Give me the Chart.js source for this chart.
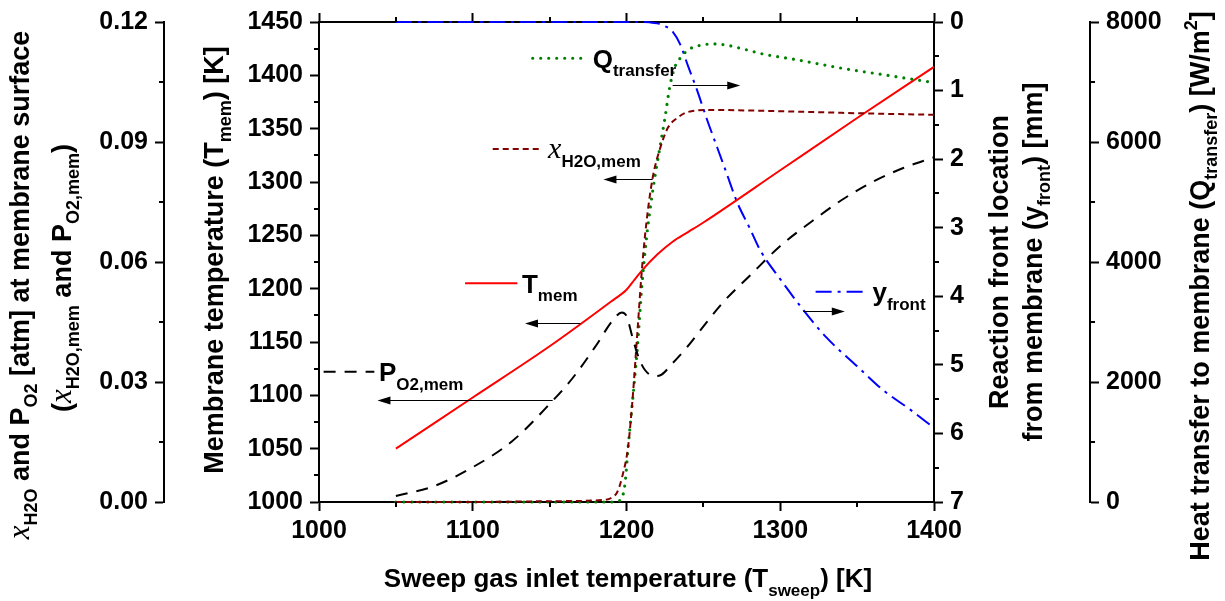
<!DOCTYPE html>
<html>
<head>
<meta charset="utf-8">
<script src="https://cdn.jsdelivr.net/npm/chart.js@4.4.0/dist/chart.umd.min.js"></script>
<style>
html, body { margin: 0; padding: 0; background: #fff; }
#wrap { width: 1225px; height: 601px; }
</style>
</head>
<body>
<div id="wrap"><canvas id="grafico"></canvas></div>
<script>
var FONT = '"Liberation Sans", Arial, sans-serif';

// membrane temperature [K]
var tSweepMem = [1050, 1100, 1150, 1190, 1200, 1205, 1210, 1220, 1230, 1240, 1250, 1300, 1350, 1400];
var tMem = [1050, 1098, 1146, 1188, 1199, 1208, 1217, 1232, 1244, 1253, 1262, 1311, 1360, 1408];

// reaction front location [mm]
var tSweepFront = [1050, 1150, 1200, 1210, 1215, 1220, 1225, 1230, 1235, 1240, 1246, 1252, 1259, 1265, 1272, 1280, 1287, 1300, 1315, 1330, 1350, 1367, 1385, 1400];
var yFront = [0, 0, 0, 0, 0.005, 0.02, 0.06, 0.14, 0.33, 0.64, 1.0, 1.4, 1.83, 2.2, 2.63, 3.0, 3.33, 3.75, 4.2, 4.6, 5.02, 5.37, 5.66, 5.92];

// heat transfer to membrane [W/m2]
var tSweepQ = [1050, 1100, 1150, 1190, 1196, 1199, 1201, 1204, 1207, 1210, 1213, 1216, 1219, 1222, 1225, 1228, 1231, 1235, 1241, 1250, 1258, 1266, 1276, 1290, 1311, 1340, 1370, 1400];
var qTransfer = [0, 0, 0, 0, 30, 300, 900, 1700, 2550, 3600, 4400, 5000, 5500, 5950, 6400, 6900, 7220, 7400, 7550, 7620, 7635, 7610, 7550, 7460, 7370, 7230, 7110, 6990];

// water mole fraction at membrane
var tSweepX = [1050, 1100, 1150, 1185, 1190, 1194, 1197, 1201, 1204, 1207, 1210, 1213, 1217, 1222, 1227, 1233, 1240, 1255, 1300, 1350, 1400];
var xH2O = [0, 0, 0.0002, 0.0005, 0.001, 0.0025, 0.006, 0.0137, 0.026, 0.042, 0.058, 0.07, 0.081, 0.0886, 0.0936, 0.096, 0.0975, 0.098, 0.0977, 0.0972, 0.0968];

// oxygen partial pressure at membrane [atm]
var tSweepP = [1050, 1075, 1100, 1125, 1150, 1165, 1180, 1191, 1197, 1200, 1204, 1208, 1212, 1218, 1222, 1230, 1240, 1248, 1263, 1280, 1300, 1320, 1340, 1360, 1380, 1400];
var pO2 = [0.0015, 0.004, 0.0087, 0.015, 0.0245, 0.031, 0.039, 0.0454, 0.0474, 0.0465, 0.041, 0.036, 0.033, 0.0315, 0.0317, 0.0347, 0.039, 0.0429, 0.050, 0.0565, 0.064, 0.070, 0.0755, 0.080, 0.0835, 0.0862];

// line looks
var STY = {
  tmem:  { c: '#ff0000', d: [], w: 2 },
  front: { c: '#0000ff', d: [16, 6, 3, 6], w: 2 },
  q:     { c: '#008000', d: [0, 8], w: 3.2 },
  x:     { c: '#800000', d: [6, 4], w: 2 },
  p:     { c: '#000000', d: [12, 9], w: 2 }
};

function pts(xs, ys) {
  return xs.map(function (x, i) { return { x: x, y: ys[i] }; });
}

function ds(label, xs, ys, axis, s) {
  return {
    label: label, data: pts(xs, ys), yAxisID: axis,
    borderColor: s.c, borderDash: s.d, borderWidth: s.w,
    borderCapStyle: s.c === '#008000' ? 'round' : 'butt',
    pointRadius: 0, fill: false, cubicInterpolationMode: 'monotone', clip: 4
  };
}

// rich text with sub/superscripts: kind n normal, b sub, p sup, i italic x
function rich(ctx, parts, x, y, rot, size, align) {
  function fnt(k) {
    if (k === 'i') return 'italic ' + Math.round(size * 1.15) + 'px "Liberation Serif", serif';
    if (k === 'b' || k === 'p') return 'bold ' + Math.round(size * 0.65) + 'px ' + FONT;
    return 'bold ' + size + 'px ' + FONT;
  }
  ctx.save();
  ctx.translate(x, y);
  if (rot) ctx.rotate(-Math.PI / 2);
  var w = 0;
  parts.forEach(function (p) { ctx.font = fnt(p[1]); w += ctx.measureText(p[0]).width; });
  var cx = align === 'left' ? 0 : -w / 2;
  var base = size * 0.36;
  ctx.fillStyle = '#000';
  ctx.textBaseline = 'alphabetic';
  ctx.textAlign = 'left';
  parts.forEach(function (p) {
    ctx.font = fnt(p[1]);
    var dy = p[1] === 'b' ? size * 0.32 : (p[1] === 'p' ? -size * 0.45 : 0);
    ctx.fillText(p[0], cx, base + dy);
    cx += ctx.measureText(p[0]).width;
  });
  ctx.restore();
}

var titles = [
  { x: 19, y: 285, rot: true, size: 27, parts: [['x', 'i'], ['H2O', 'b'], [' and P', 'n'], ['O2', 'b'], [' [atm] at membrane surface', 'n']] },
  { x: 61, y: 278, rot: true, size: 27, parts: [['(', 'n'], ['x', 'i'], ['H2O,mem', 'b'], [' and P', 'n'], ['O2,mem', 'b'], [')', 'n']] },
  { x: 213, y: 260, rot: true, size: 27, parts: [['Membrane temperature (T', 'n'], ['mem', 'b'], [') [K]', 'n']] },
  { x: 998, y: 262, rot: true, size: 27, parts: [['Reaction front location', 'n']] },
  { x: 1032, y: 262, rot: true, size: 27, parts: [['from membrane (y', 'n'], ['front', 'b'], [') [mm]', 'n']] },
  { x: 1199, y: 286, rot: true, size: 27, parts: [['Heat transfer to membrane (Q', 'n'], ['transfer', 'b'], [') [W/m', 'n'], ['2', 'p'], [']', 'n']] },
  { x: 628, y: 578, rot: false, size: 26, parts: [['Sweep gas inlet temperature (T', 'n'], ['sweep', 'b'], [') [K]', 'n']] }
];

// in-plot labels, placed in (T_sweep, T_mem) coordinates
var notes = [
  { s: 'q', line: [1139, 1172, 1416], text: [1178, 1416], parts: [['Q', 'n'], ['transfer', 'b']], arrow: [1230, 1274, 1391] },
  { s: 'x', line: [1113, 1144, 1331], text: [1149, 1331], parts: [['x', 'i'], ['H2O,mem', 'b']], arrow: [1217, 1185, 1303] },
  { s: 'tmem', line: [1095, 1129, 1205], text: [1132, 1205], parts: [['T', 'n'], ['mem', 'b']], arrow: [1170, 1134, 1168] },
  { s: 'front', line: [1323, 1356, 1197], text: [1360, 1197], parts: [['y', 'n'], ['front', 'b']], arrow: [1315, 1342, 1179] },
  { s: 'p', line: [1003, 1036, 1122], text: [1039, 1122], parts: [['P', 'n'], ['O2,mem', 'b']], arrow: [1152, 1038, 1096] }
];

var minor = { x: 50, xTop: 50, yX: 0.015, yT: 25, yF: 0.5, yQ: 1000 };

var decor = {
  id: 'decor',
  afterDraw: function (chart) {
    var ctx = chart.ctx;
    // minor ticks
    ctx.save();
    ctx.strokeStyle = '#000';
    ctx.lineWidth = 2;
    Object.keys(minor).forEach(function (id) {
      var sc = chart.scales[id];
      var st = minor[id];
      var n = Math.round((sc.max - sc.min) / st);
      for (var i = 1; i < n; i += 2) {
        var v = sc.min + i * st;
        var p = Math.round(sc.getPixelForValue(v));
        ctx.beginPath();
        if (sc.position === 'left') { ctx.moveTo(sc.right, p); ctx.lineTo(sc.right - 5, p); }
        else if (sc.position === 'right') { ctx.moveTo(sc.left, p); ctx.lineTo(sc.left + 5, p); }
        else if (sc.position === 'bottom') { ctx.moveTo(p, sc.top); ctx.lineTo(p, sc.top + 5); }
        else { ctx.moveTo(p, sc.bottom); ctx.lineTo(p, sc.bottom - 5); }
        ctx.stroke();
      }
    });
    ctx.restore();

    titles.forEach(function (t) { rich(ctx, t.parts, t.x, t.y, t.rot, t.size, 'center'); });

    var sx = chart.scales.x, sy = chart.scales.yT;
    notes.forEach(function (n) {
      var s = STY[n.s];
      ctx.save();
      ctx.strokeStyle = s.c;
      ctx.lineWidth = s.w;
      ctx.setLineDash(s.d);
      ctx.lineCap = n.s === 'q' ? 'round' : 'butt';
      ctx.beginPath();
      ctx.moveTo(sx.getPixelForValue(n.line[0]), sy.getPixelForValue(n.line[2]));
      ctx.lineTo(sx.getPixelForValue(n.line[1]), sy.getPixelForValue(n.line[2]));
      ctx.stroke();
      ctx.restore();

      rich(ctx, n.parts, sx.getPixelForValue(n.text[0]), sy.getPixelForValue(n.text[1]), false, 26, 'left');

      var x1 = sx.getPixelForValue(n.arrow[0]), x2 = sx.getPixelForValue(n.arrow[1]);
      var ay = Math.round(sy.getPixelForValue(n.arrow[2])) + 0.5;
      var dir = x2 > x1 ? 1 : -1;
      ctx.save();
      ctx.strokeStyle = '#000';
      ctx.fillStyle = '#000';
      ctx.lineWidth = 1;
      ctx.beginPath();
      ctx.moveTo(x1, ay); ctx.lineTo(x2 - dir * 10, ay);
      ctx.stroke();
      ctx.beginPath();
      ctx.moveTo(x2, ay); ctx.lineTo(x2 - dir * 13, ay - 4); ctx.lineTo(x2 - dir * 13, ay + 4);
      ctx.closePath();
      ctx.fill();
      ctx.restore();
    });
  }
};

function axis(pos, min, max, step, w, weight, fmt) {
  return {
    type: 'linear', position: pos, min: min, max: max, weight: weight,
    grid: { drawOnChartArea: false, drawTicks: true, tickLength: 9, tickWidth: 2, tickColor: '#000' },
    border: { display: true, color: '#000', width: 2 },
    ticks: {
      stepSize: step, padding: 7, color: '#000',
      font: { family: FONT, size: 25, weight: 'bold' },
      callback: fmt || function (v) { return v; }
    },
    afterFit: function (sc) { if (pos === 'left' || pos === 'right') sc.width = w; else sc.height = w; }
  };
}

var scX = axis('bottom', 1000, 1400, 100, 99, 0);
scX.ticks.padding = 5;
var scTop = axis('top', 1000, 1400, 100, 21, 0);
scTop.ticks.display = false;
var scYX = axis('left', 0, 0.12, 0.03, 164, 10, function (v) { return v.toFixed(2); });
var scYT = axis('left', 1000, 1450, 50, 155, 0);
var scYF = axis('right', 0, 7, 1, 156, 0);
scYF.reverse = true;
var scYQ = axis('right', 0, 8000, 2000, 135, 10);

var ctx = document.getElementById('grafico');

var chart = new Chart(ctx, {
  type: 'line',
  data: {
    datasets: [
      ds('P_O2,mem', tSweepP, pO2, 'yX', STY.p),
      ds('x_H2O,mem', tSweepX, xH2O, 'yX', STY.x),
      ds('Q_transfer', tSweepQ, qTransfer, 'yQ', STY.q),
      ds('T_mem', tSweepMem, tMem, 'yT', STY.tmem),
      ds('y_front', tSweepFront, yFront, 'yF', STY.front)
    ]
  },
  options: {
    responsive: true,
    maintainAspectRatio: false,
    animation: false,
    layout: { padding: 0 },
    plugins: { legend: { display: false }, tooltip: { enabled: false } },
    scales: { x: scX, xTop: scTop, yX: scYX, yT: scYT, yF: scYF, yQ: scYQ }
  },
  plugins: [decor]
});
</script>
</body>
</html>
